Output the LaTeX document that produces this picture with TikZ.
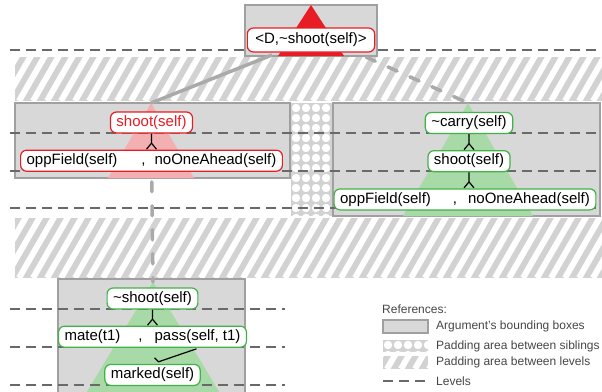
\documentclass[tikz,border=0pt]{standalone}
\usepackage{fontspec}
\setmainfont{Liberation Sans}
\usetikzlibrary{calc, positioning}

\definecolor{boxgray}{RGB}{216,216,216}
\definecolor{boxline}{RGB}{160,160,160}
\definecolor{padgray}{RGB}{210,210,210}
\definecolor{levelgray}{RGB}{105,105,105}
\definecolor{linkgray}{RGB}{170,170,170}
\definecolor{argred}{RGB}{232,28,36}
\definecolor{argpink}{RGB}{242,176,178}
\definecolor{arggreen}{RGB}{64,178,72}
\definecolor{argmint}{RGB}{168,218,168}
\definecolor{legendtext}{RGB}{70,70,70}

\tikzset{
node distance=16pt, % gap between stacked arguments
every node/.style={inner sep=1pt},
arg/.style={draw, fill=white, rounded corners=6pt, line width=1.2pt,
  inner xsep=6pt, inner ysep=0pt, minimum height=21pt,
  text height=11pt, text depth=3.5pt, font=\fontsize{15}{18}\selectfont},
redarg/.style={arg, draw=argred},
greenarg/.style={arg, draw=arggreen},
argbox/.style={fill=boxgray, draw=boxline, line width=1.5pt},
level/.style={draw=levelgray, line width=1.5pt, dash pattern=on 10pt off 6pt},
link/.style={draw=linkgray, line width=3.5pt},
weaklink/.style={link, line cap=round, dash pattern=on 10pt off 14pt, dash phase=14pt},
forkline/.style={draw=black, line width=1.2pt},
legend/.style={font=\fontsize{12}{14}\selectfont, text=legendtext, anchor=west, inner sep=0pt},
}

% hatched padding between levels
\newcommand{\levelpad}[4]{%
  \begin{scope}
    \clip (#1,#2) rectangle (#3,#4);
    \fill[padgray] (#1,#2) rectangle (#3,#4);
    \foreach \s in {0,14,...,700}
      \draw[white, line width=6pt] (#1-80+\s,#4) -- ++(46,-80);
  \end{scope}}

% dotted padding between siblings
\newcommand{\siblingpad}[4]{%
  \begin{scope}
    \clip (#1,#2) rectangle (#3,#4);
    \fill[padgray] (#1,#2) rectangle (#3,#4);
    \foreach \i in {0,...,5}
      \foreach \j in {0,...,12}
        \fill[white] (#1+5+10*\i,#2+5+10*\j) circle (4.2pt);
  \end{scope}}

% conclusion supported by the premises below it
\newcommand{\supportfork}[2]{%
  \draw[forkline] (#1.south) -- ($(#1.south)!.6!(#1.south|-#2.north)$) coordinate (j)
    (j) -- ++(-5,6) (j) -- ++(5,6);}

\begin{document}
\begin{tikzpicture}[x=1pt, y=-1pt]
  \useasboundingbox (0,0) rectangle (602,391);

  \foreach \ya/\yb in {57/101, 218/278} {\levelpad{15}{\ya}{602}{\yb}}
  \siblingpad{291}{103}{333}{216}

  % level 0
  \draw[level] (10,50) -- (602,50);
  \draw[argbox] (245,5) rectangle (377,56);
  \fill[argred] (311,5) coordinate (apexT) -- (278,56) -- (344,56) -- cycle;

  % level 1
  \draw[argbox] (15,103) rectangle (290,178);
  \draw[argbox] (333,103) rectangle (600,216);
  \fill[argpink] (151,103) coordinate (apexL) -- (108,178) -- (194,178) -- cycle;
  \fill[argmint] (468,103) coordinate (apexR) -- (403,216) -- (533,216) -- cycle;
  \foreach \y in {133,171,208} \draw[level] (10,\y) -- (602,\y);

  % level 2
  \draw[argbox] (58,279) rectangle (245,400);
  \fill[argmint] (153,282) coordinate (apexB) -- (82,400) -- (224,400) -- cycle;
  \foreach \y in {309,347,385} \draw[level] (10,\y) -- (285,\y);

  \node[redarg, minimum height=24pt, inner xsep=8pt] (root) at (311,40) {<D,\textasciitilde shoot(self)>};

  \node[redarg, text=argred] (shootL) at (151.5,122.5) {shoot(self)};
  \node[redarg, below=of shootL] (premL) {oppField(self)\hspace{24pt},\hspace{9pt}noOneAhead(self)\hspace{9pt}};

  \node[greenarg] (carry) at (469,123) {\textasciitilde carry(self)};
  \node[greenarg, below=of carry] (shootR) {shoot(self)};
  \node[greenarg, below=of shootR, xshift=-4pt] (premR) {oppField(self)\hspace{22pt},\hspace{11pt}noOneAhead(self)\hspace{3pt}};

  \node[greenarg] (notshoot) at (152.5,298.5) {\textasciitilde shoot(self)};
  \node[greenarg, below=of notshoot] (mate) {mate(t1)\hspace{18pt},\hspace{12pt}pass(self, t1)};
  \node[greenarg, below=of mate] (marked) {marked(self)};

  % attacks between arguments
  \coordinate (fromL) at (272,55);
  \coordinate (fromR) at (357,53);
  \draw[link] (fromL) -- (apexL);
  \draw[weaklink] (fromR) -- (apexR);
  \draw[weaklink] (premL) -- (apexB);

  \supportfork{shootL}{premL}
  \supportfork{carry}{shootR}
  \supportfork{shootR}{premR}
  \supportfork{notshoot}{mate}
  \draw[forkline] ($(mate.south)+(44,1)$) -- ($(marked.north)+(6,-2)$) coordinate (j) -- ++(-4,-4);

  % references
  \node[legend] (refs) at (382,309) {References:};
  \draw[argbox] (383,320) rectangle (428,333);
  \node[legend] (legbox) at (436,326.5) {Argument’s bounding boxes};
  \siblingpad{383}{340}{428}{352}
  \node[legend] (legsib) at (436,346) {Padding area between siblings};
  \levelpad{383}{356}{428}{369}
  \node[legend] (leglev) at (436,362.5) {Padding area between levels};
  \draw[level] (383,381) -- (428,381);
  \node[legend] (legline) at (436,381) {Levels};
\end{tikzpicture}
\end{document}
